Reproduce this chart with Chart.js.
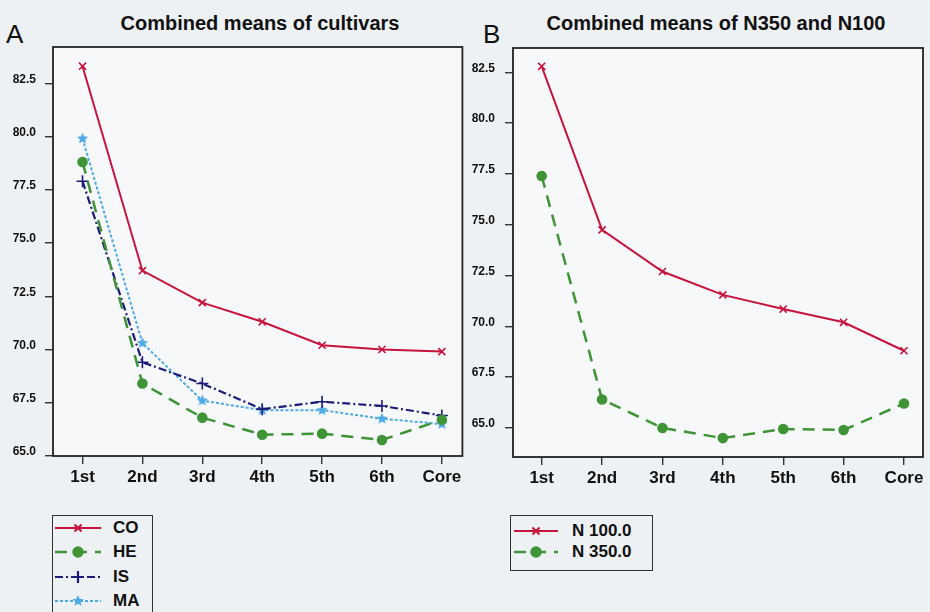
<!DOCTYPE html>
<html><head><meta charset="utf-8">
<script src="https://cdn.jsdelivr.net/npm/chart.js@4.4.1/dist/chart.umd.min.js"></script>
<style>
html,body{margin:0;padding:0;background:#eef1f4;width:930px;height:612px;overflow:hidden;font-family:"Liberation Sans",Arial,sans-serif;}
.abs{position:absolute;margin:0;}
.letter{font-size:26px;line-height:26px;color:#111;}
.title{font-size:20px;line-height:20px;font-weight:bold;color:#111;white-space:nowrap;transform:translateX(-50%);}
.legend{position:absolute;border:1.5px solid #333;box-sizing:border-box;}
.legend .row{position:absolute;left:0;height:22px;width:100%;}
.legend .row canvas{position:absolute;top:3px;}
.legend .row span{position:absolute;top:1px;font-size:17px;line-height:20px;font-weight:bold;color:#111;white-space:nowrap;}
canvas.chart{position:absolute;top:0;}
</style></head><body>
<div class="abs letter" style="left:6px;top:21px">A</div>
<div class="abs letter" style="left:483px;top:21px">B</div>
<div class="abs title" style="left:260px;top:13px">Combined means of cultivars</div>
<div class="abs title" style="left:716px;top:13px">Combined means of N350 and N100</div>
<canvas id="cA" class="chart" width="470" height="500" style="left:0px"></canvas>
<canvas id="cB" class="chart" width="465" height="500" style="left:465px"></canvas>
<div id="legA" class="legend" style="left:52px;top:515px;width:101px;height:120px"></div>
<div id="legB" class="legend" style="left:510px;top:515px;width:143px;height:56px"></div>
<script>
// ---- data ----
const categories = ['1st','2nd','3rd','4th','5th','6th','Core'];
const coA = [83.3, 73.7, 72.2, 71.3, 70.2, 70.0, 69.9];
const heA = [78.8, 68.4, 66.8, 66.0, 66.05, 65.75, 66.7];
const isA = [77.9, 69.4, 68.4, 67.2, 67.55, 67.35, 66.9];
const maA = [79.9, 70.3, 67.6, 67.15, 67.15, 66.75, 66.5];
const n100 = [82.8, 74.75, 72.7, 71.55, 70.85, 70.2, 68.8];
const n350 = [77.4, 66.4, 65.0, 64.5, 64.95, 64.9, 66.2];
const yTicksA = [65.0, 67.5, 70.0, 72.5, 75.0, 77.5, 80.0, 82.5];
const yTicksB = [65.0, 67.5, 70.0, 72.5, 75.0, 77.5, 80.0, 82.5];

const FONT = '"Liberation Sans", Arial, sans-serif';
const RED = '#c8143c', GREEN = '#3f9436', NAVY = '#1c1c78', LBLUE = '#4ea9e4';

function starImg(color, r){
  const s = Math.ceil(r*2+2), c = document.createElement('canvas');
  c.width = s; c.height = s;
  const g = c.getContext('2d');
  g.fillStyle = color; g.beginPath();
  for (let i=0;i<10;i++){
    const rr = i%2 ? r*0.45 : r, a = -Math.PI/2 + i*Math.PI/5;
    g.lineTo(s/2 + rr*Math.cos(a), s/2 + rr*Math.sin(a));
  }
  g.closePath(); g.fill();
  return c;
}
const toPts = arr => arr.map((v,i)=>({x:i, y:v}));

function ds(label, arr, color, dash, style, radius, width){
  return {label, data: toPts(arr), borderColor: color, backgroundColor: color,
    borderWidth: width, borderDash: dash, pointStyle: style, pointRadius: radius,
    pointBorderWidth: 1.6, pointBorderColor: color, pointBackgroundColor: color,
    tension: 0, clip: false};
}

const framePlugin = {
  id: 'frame',
  beforeDraw(chart){
    const {ctx, chartArea:a} = chart;
    ctx.save(); ctx.fillStyle = '#f6f8fa';
    ctx.fillRect(a.left, a.top, a.right-a.left, a.bottom-a.top); ctx.restore();
  },
  afterDraw(chart){
    const {ctx, chartArea:a} = chart;
    ctx.save(); ctx.strokeStyle = '#222'; ctx.lineWidth = 1.8;
    ctx.strokeRect(a.left, a.top, a.right-a.left, a.bottom-a.top); ctx.restore();
  }
};

function makeChart(id, datasets, yTicks, cfg){
  return new Chart(document.getElementById(id), {
    type: 'line',
    data: {datasets},
    options: {
      responsive: false, animation: false, devicePixelRatio: 1,
      layout: {padding: {top: cfg.top, right: cfg.right, left: 0, bottom: 0}},
      plugins: {legend: {display: false}, tooltip: {enabled: false}, title: {display: false}},
      scales: {
        x: {type: 'linear', min: cfg.xmin, max: cfg.xmax,
          afterBuildTicks: s => { s.ticks = categories.map((c,i)=>({value:i})); },
          afterFit: s => { s.height = cfg.xh; },
          grid: {drawOnChartArea: false, drawTicks: true, tickLength: 8, color: '#333', lineWidth: 1.4},
          border: {display: false},
          ticks: {callback: v => categories[v], font: {family: FONT, size: 17, weight: 'bold'},
                  color: '#111', padding: 3, maxRotation: 0, autoSkip: false}},
        y: {min: cfg.ymin, max: cfg.ymax,
          afterBuildTicks: s => { s.ticks = yTicks.map(v=>({value:v})); },
          afterFit: s => { s.width = cfg.yw; },
          grid: {drawOnChartArea: false, drawTicks: true, tickLength: 8, color: '#333', lineWidth: 1.4},
          border: {display: false},
          ticks: {callback: v => Number(v).toFixed(1), font: {family: FONT, size: 12, weight: 'bold'},
                  color: '#111', padding: cfg.ypad, labelOffset: -4, autoSkip: false}}
      }
    },
    plugins: [framePlugin]
  });
}

const chartA = makeChart('cA', [
  ds('CO', coA, RED, [], 'crossRot', 5, 2),
  ds('HE', heA, GREEN, [12, 8], 'circle', 4.5, 2.5),
  ds('IS', isA, NAVY, [8, 3, 2, 3], 'cross', 6, 2.2),
  ds('MA', maA, LBLUE, [3, 2], starImg(LBLUE, 6), 6, 2)
], yTicksA, {top: 47, right: 5, yw: 53, xh: 44, xmin: -0.493, xmax: 6.343, ymin: 65, ymax: 84.2, ypad: 9});

const chartB = makeChart('cB', [
  ds('N 100.0', n100, RED, [], 'crossRot', 5, 2),
  ds('N 350.0', n350, GREEN, [12, 8], 'circle', 4.5, 2.5)
], yTicksB, {top: 48, right: 7, yw: 48, xh: 43, xmin: -0.475, xmax: 6.315, ymin: 63.57, ymax: 83.7, ypad: 10});

function buildLegend(chart, elId, firstTop, step, sampleLeft, sampleW, textLeft){
  const box = document.getElementById(elId);
  chart.data.datasets.forEach((d, i) => {
    const row = document.createElement('div'); row.className = 'row';
    row.style.top = (firstTop + i*step) + 'px';
    const c = document.createElement('canvas'); c.width = sampleW; c.height = 16;
    c.style.left = sampleLeft + 'px';
    const g = c.getContext('2d');
    g.strokeStyle = d.borderColor; g.lineWidth = d.borderWidth; g.setLineDash(d.borderDash);
    g.beginPath(); g.moveTo(0, 8); g.lineTo(sampleW, 8); g.stroke(); g.setLineDash([]);
    g.fillStyle = d.pointBackgroundColor; g.strokeStyle = d.pointBorderColor;
    Chart.helpers.drawPoint(g, {pointStyle: d.pointStyle, radius: d.pointRadius, borderWidth: d.pointBorderWidth, rotation: 0}, sampleW/2, 8);
    const t = document.createElement('span'); t.textContent = d.label; t.style.left = textLeft + 'px';
    row.appendChild(c); row.appendChild(t); box.appendChild(row);
  });
}
buildLegend(chartA, 'legA', 1, 24.3, 2, 46, 60);
buildLegend(chartB, 'legB', 4, 21, 3, 44, 61);
</script>
</body></html>
